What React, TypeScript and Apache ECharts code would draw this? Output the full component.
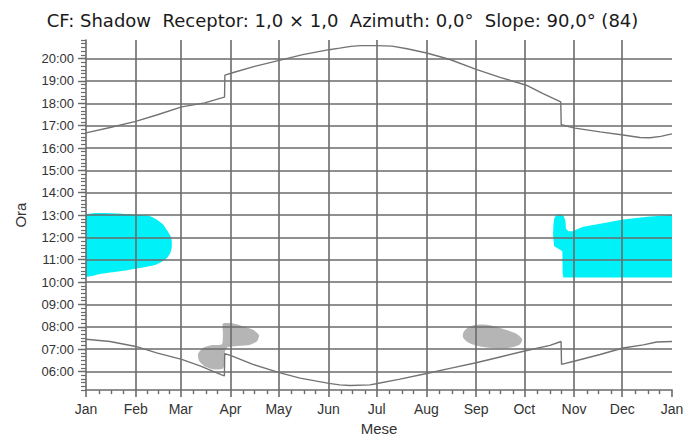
import React, { useEffect, useRef } from "react";
import * as echarts from "echarts";

// ---- data ----
const TITLE = "CF: Shadow  Receptor: 1,0 × 1,0  Azimuth: 0,0°  Slope: 90,0° (84)";
const X_NAME = "Mese";
const Y_NAME = "Ora";
const MONTH_LABELS = ["Jan", "Feb", "Mar", "Apr", "May", "Jun", "Jul", "Aug", "Sep", "Oct", "Nov", "Dec", "Jan"];
const MONTH_START_DAYS = [0, 31, 59, 90, 120, 151, 181, 212, 243, 273, 304, 334, 365];
const Y_MIN = 5 + 10 / 60;
const Y_MAX = 20 + 50 / 60;

// sunset (upper line): [day of year, hour]
const SUNSET: number[][] = [
  [0, 16.68], [15, 16.92], [31, 17.19], [45, 17.5], [59.6, 17.84], [74, 18.02], [84.5, 18.24], [86.3, 18.28],
  [86.5, 19.26], [91.8, 19.38], [105, 19.65], [120.4, 19.92], [135, 20.18], [151.4, 20.4], [158, 20.47],
  [165, 20.55], [171, 20.58], [181, 20.58], [190.6, 20.56], [200, 20.44], [212.2, 20.25], [226.7, 19.96],
  [243, 19.52], [257.9, 19.16], [273.9, 18.82], [285, 18.42], [295.7, 18.06], [296, 17.04], [304.6, 16.89],
  [320.2, 16.72], [334.5, 16.58], [345, 16.47], [351.3, 16.46], [358, 16.52], [365, 16.63],
];

// sunrise (lower line): [day of year, hour]
const SUNRISE: number[][] = [
  [0, 7.44], [15, 7.34], [31, 7.12], [44, 6.83], [59.6, 6.54], [71, 6.25], [84.5, 5.85], [86.2, 5.8],
  [86.4, 6.8], [90.3, 6.71], [104, 6.32], [120.4, 5.95], [133.3, 5.7], [151.4, 5.47], [158, 5.4],
  [164.4, 5.37], [176.9, 5.4], [180.6, 5.45], [195.6, 5.66], [212.2, 5.91], [226.7, 6.14], [243, 6.39],
  [257.9, 6.65], [273.9, 6.93], [289, 7.17], [295.9, 7.34], [296.2, 6.32], [304.6, 6.47], [320.2, 6.76],
  [334.5, 7.05], [347.1, 7.19], [355.5, 7.32], [365, 7.34],
];

// shadow areas: outline [day, hour]
const CYAN_WINTER_EARLY: number[][] = [
  [0, 13.0], [34.7, 13.0], [40, 12.95], [44, 12.8], [48, 12.58], [50.5, 12.32], [52.5, 12.08], [53.4, 11.85],
  [53.4, 11.55], [52.5, 11.3], [50.5, 11.08], [47, 10.9], [43, 10.77], [34.3, 10.64], [21.2, 10.48],
  [8.7, 10.36], [0, 10.26],
];
const CYAN_WINTER_LATE: number[][] = [
  [291.6, 12.85], [293, 13.0], [295.5, 13.04], [297.6, 12.95], [298.6, 12.75], [299, 12.39], [300.5, 12.27],
  [303, 12.28], [309.6, 12.48], [320.2, 12.61], [334.5, 12.8], [351.3, 12.93], [365, 13.0], [365, 10.2],
  [297.4, 10.2], [296.9, 10.35], [296.7, 11.38], [294, 11.5], [291.6, 11.6], [290.9, 12.08], [291.1, 12.5],
];
const GRAY_SPRING: number[][] = [
  [85.3, 8.14], [92.2, 8.14], [98.4, 8.01], [104.6, 7.84], [107.8, 7.62], [106.5, 7.35], [101.5, 7.18],
  [94.7, 7.14], [88.4, 7.09], [86.6, 6.92], [86.6, 6.48], [85.3, 6.13], [79.7, 6.09], [74.1, 6.22],
  [70.4, 6.48], [69.8, 6.79], [72.9, 7.05], [78.5, 7.18], [84.7, 7.22], [85.3, 7.7],
];
const GRAY_AUTUMN: number[][] = [
  [235.4, 7.79], [239.2, 8.01], [245.4, 8.1], [252.9, 8.05], [261.0, 7.88], [267.8, 7.7], [271.6, 7.44],
  [269.7, 7.18], [262.8, 7.05], [252.9, 7.05], [244.2, 7.14], [237.9, 7.31], [234.8, 7.53],
];

// ---- axis scaffolding ----
const X_CATS = Array.from({ length: 366 }, (_, i) => String(i));
const MINOR_X_DAYS: number[] = [];
for (let m = 0; m < 12; m++) {
  const len = MONTH_START_DAYS[m + 1] - MONTH_START_DAYS[m];
  for (let k = 1; k <= 3; k++) MINOR_X_DAYS.push(MONTH_START_DAYS[m] + Math.round((len * k) / 4));
}
const Y_CATS: string[] = [];
for (let t = 5 * 60 + 10; t <= 20 * 60 + 50; t += 10) {
  const h = Math.floor(t / 60);
  const mm = t % 60;
  Y_CATS.push(`${String(h).padStart(2, "0")}:${String(mm).padStart(2, "0")}`);
}

const FONT = "'Liberation Sans', Arial, sans-serif";
const GRID_COLOR = "#6b6b6b";
const LINE_COLOR = "#737373";
const CYAN = "#00f2f8";
const GRAY = "#b5b5b5";

function blob(points: number[][], color: string, smooth: number) {
  return {
    type: "custom",
    coordinateSystem: "cartesian2d",
    xAxisIndex: 0,
    yAxisIndex: 0,
    data: points,
    clip: true,
    silent: true,
    z: 1,
    renderItem: (params: any, api: any) => {
      if (params.dataIndex !== 0) return null;
      const pts = points.map((p) => api.coord(p));
      return {
        type: "polygon",
        shape: { points: pts, smooth },
        style: { fill: color, stroke: null },
      };
    },
  };
}

export default function App() {
  const ref = useRef<HTMLDivElement>(null);
  useEffect(() => {
    if (!ref.current) return;
    const chart = echarts.init(ref.current, undefined, { renderer: "svg" });
    const isMonth = (i: number) => MONTH_START_DAYS.includes(i);
    const isInnerMonth = (i: number) => i !== 0 && i !== 365 && MONTH_START_DAYS.includes(i);
    const isMinorX = (i: number) => MINOR_X_DAYS.includes(i);
    const isHour = (i: number) => Y_CATS[i].endsWith(":00");
    chart.setOption({
      animation: false,
      backgroundColor: "#ffffff",
      textStyle: { fontFamily: FONT },
      grid: { left: 86, right: 27, top: 40, bottom: 43, containLabel: false },
      graphic: [
        {
          type: "text",
          x: 342.5,
          y: 20,
          style: {
            text: TITLE,
            fontFamily: "'DejaVu Sans', sans-serif",
            fontSize: 18,
            fill: "#1a1a1a",
            textAlign: "center",
            textVerticalAlign: "middle",
          },
        },
      ],
      xAxis: [
        { type: "value", min: 0, max: 365, show: false },
        {
          type: "category",
          data: X_CATS,
          boundaryGap: false,
          position: "bottom",
          z: 3,
          name: X_NAME,
          nameLocation: "middle",
          nameGap: 29,
          nameTextStyle: { fontFamily: FONT, fontSize: 15, color: "#333" },
          axisLine: { show: true, onZero: false, lineStyle: { color: GRID_COLOR, width: 1.6 } },
          axisTick: { show: true, interval: (i: number) => isMonth(i), length: 7, lineStyle: { color: GRID_COLOR, width: 1.6 } },
          axisLabel: {
            interval: (i: number) => isMonth(i),
            formatter: (v: string) => MONTH_LABELS[MONTH_START_DAYS.indexOf(Number(v))] ?? "",
            margin: 12,
            fontFamily: FONT,
            fontSize: 14,
            color: "#333",
          },
          splitLine: { show: true, interval: (i: number) => isInnerMonth(i), lineStyle: { color: GRID_COLOR, width: 1.6 } },
        },
        {
          type: "category",
          data: X_CATS,
          boundaryGap: false,
          position: "bottom",
          z: 3,
          axisLine: { show: false, onZero: false },
          axisTick: { show: true, interval: (i: number) => isMinorX(i), length: 4, lineStyle: { color: GRID_COLOR, width: 1.4 } },
          axisLabel: { show: false },
          splitLine: { show: false },
        },
      ],
      yAxis: [
        { type: "value", min: Y_MIN, max: Y_MAX, show: false },
        {
          type: "category",
          data: Y_CATS,
          boundaryGap: false,
          position: "left",
          z: 3,
          name: Y_NAME,
          nameLocation: "middle",
          nameGap: 58,
          nameTextStyle: { fontFamily: FONT, fontSize: 15, color: "#333" },
          axisLine: { show: true, onZero: false, lineStyle: { color: GRID_COLOR, width: 1.6 } },
          axisTick: { show: true, interval: (i: number) => isHour(i), length: 8, lineStyle: { color: GRID_COLOR, width: 1.4 } },
          axisLabel: {
            interval: (i: number) => isHour(i),
            margin: 12,
            fontFamily: FONT,
            fontSize: 13,
            color: "#333",
          },
          splitLine: { show: true, interval: (i: number) => isHour(i), lineStyle: { color: GRID_COLOR, width: 1.6 } },
        },
        {
          type: "category",
          data: Y_CATS,
          boundaryGap: false,
          position: "left",
          z: 3,
          axisLine: { show: false, onZero: false },
          axisTick: { show: true, interval: 0, length: 5, lineStyle: { color: GRID_COLOR, width: 1.2 } },
          axisLabel: { show: false },
          splitLine: { show: false },
        },
      ],
      series: [
        blob(CYAN_WINTER_EARLY, CYAN, 0.15),
        blob(CYAN_WINTER_LATE, CYAN, 0),
        blob(GRAY_SPRING, GRAY, 0.2),
        blob(GRAY_AUTUMN, GRAY, 0.3),
        {
          type: "line",
          xAxisIndex: 0,
          yAxisIndex: 0,
          data: SUNSET,
          showSymbol: false,
          z: 5,
          silent: true,
          lineStyle: { color: LINE_COLOR, width: 1.4 },
        },
        {
          type: "line",
          xAxisIndex: 0,
          yAxisIndex: 0,
          data: SUNRISE,
          showSymbol: false,
          z: 5,
          silent: true,
          lineStyle: { color: LINE_COLOR, width: 1.4 },
        },
      ],
    });
    return () => chart.dispose();
  }, []);
  return (
    <div
      ref={ref}
      style={{ position: "absolute", left: 0, top: 0, width: 699, height: 441, background: "#fff" }}
    />
  );
}
